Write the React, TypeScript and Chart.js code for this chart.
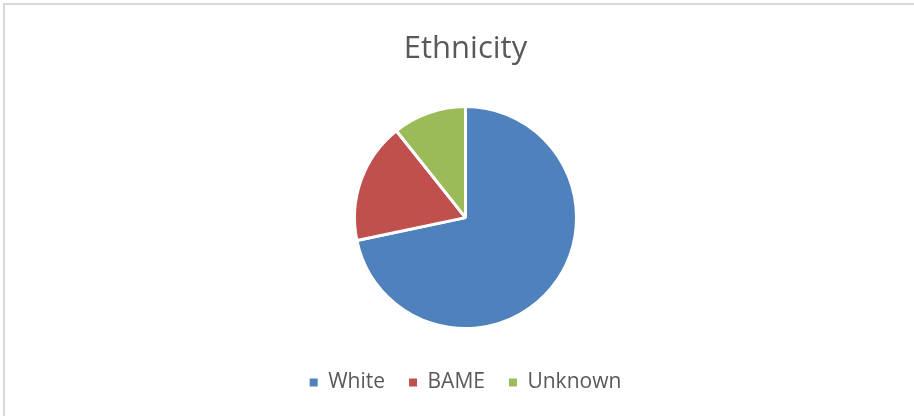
import React, { useEffect, useRef } from "react";
import { Chart, registerables } from "chart.js";

Chart.register(...registerables);

const categories = ["White", "BAME", "Unknown"];
const values = [71.7, 17.6, 10.7];
const colors = ["#4F81BD", "#C0504D", "#9BBB59"];
const titleText = "Ethnicity";

export default function App() {
  const ref = useRef<HTMLCanvasElement | null>(null);

  useEffect(() => {
    document.body.style.margin = "0";
    const canvas = ref.current;
    if (!canvas) return;
    const chart = new Chart(canvas, {
      type: "pie",
      data: {
        labels: categories,
        datasets: [
          {
            data: values,
            backgroundColor: colors,
            borderColor: "#ffffff",
            borderWidth: 3,
            radius: 111,
          },
        ],
      },
      options: {
        animation: false,
        responsive: false,
        maintainAspectRatio: false,
        layout: { padding: { left: 17, right: 0, top: 31, bottom: 13 } },
        plugins: {
          title: {
            display: true,
            text: titleText,
            color: "#595959",
            font: { family: "'Open Sans', sans-serif", size: 31, weight: "normal" },
            padding: { top: 0, bottom: 19 },
          },
          legend: {
            position: "bottom",
            labels: {
              color: "#595959",
              font: { family: "'Open Sans', sans-serif", size: 21 },
              boxWidth: 8,
              boxHeight: 8,
              padding: 24,
              generateLabels: (c: any) =>
                (Chart as any).overrides.pie.plugins.legend.labels
                  .generateLabels(c)
                  .map((l: any) => ({ ...l, lineWidth: 0, strokeStyle: "rgba(0,0,0,0)" })),
            },
          },
          tooltip: { enabled: false },
        },
      },
    });
    return () => chart.destroy();
  }, []);

  return (
    <div style={{ position: "relative", width: 914, height: 416, overflow: "hidden", background: "#fff" }}>
      <div
        style={{
          position: "absolute",
          left: 3,
          top: 3,
          width: 940,
          height: 440,
          borderTop: "2px solid #d9d9d9",
          borderLeft: "2px solid #d9d9d9",
          boxSizing: "border-box",
        }}
      />
      <canvas ref={ref} width={914} height={416} style={{ position: "absolute", left: 0, top: 0 }} />
    </div>
  );
}
